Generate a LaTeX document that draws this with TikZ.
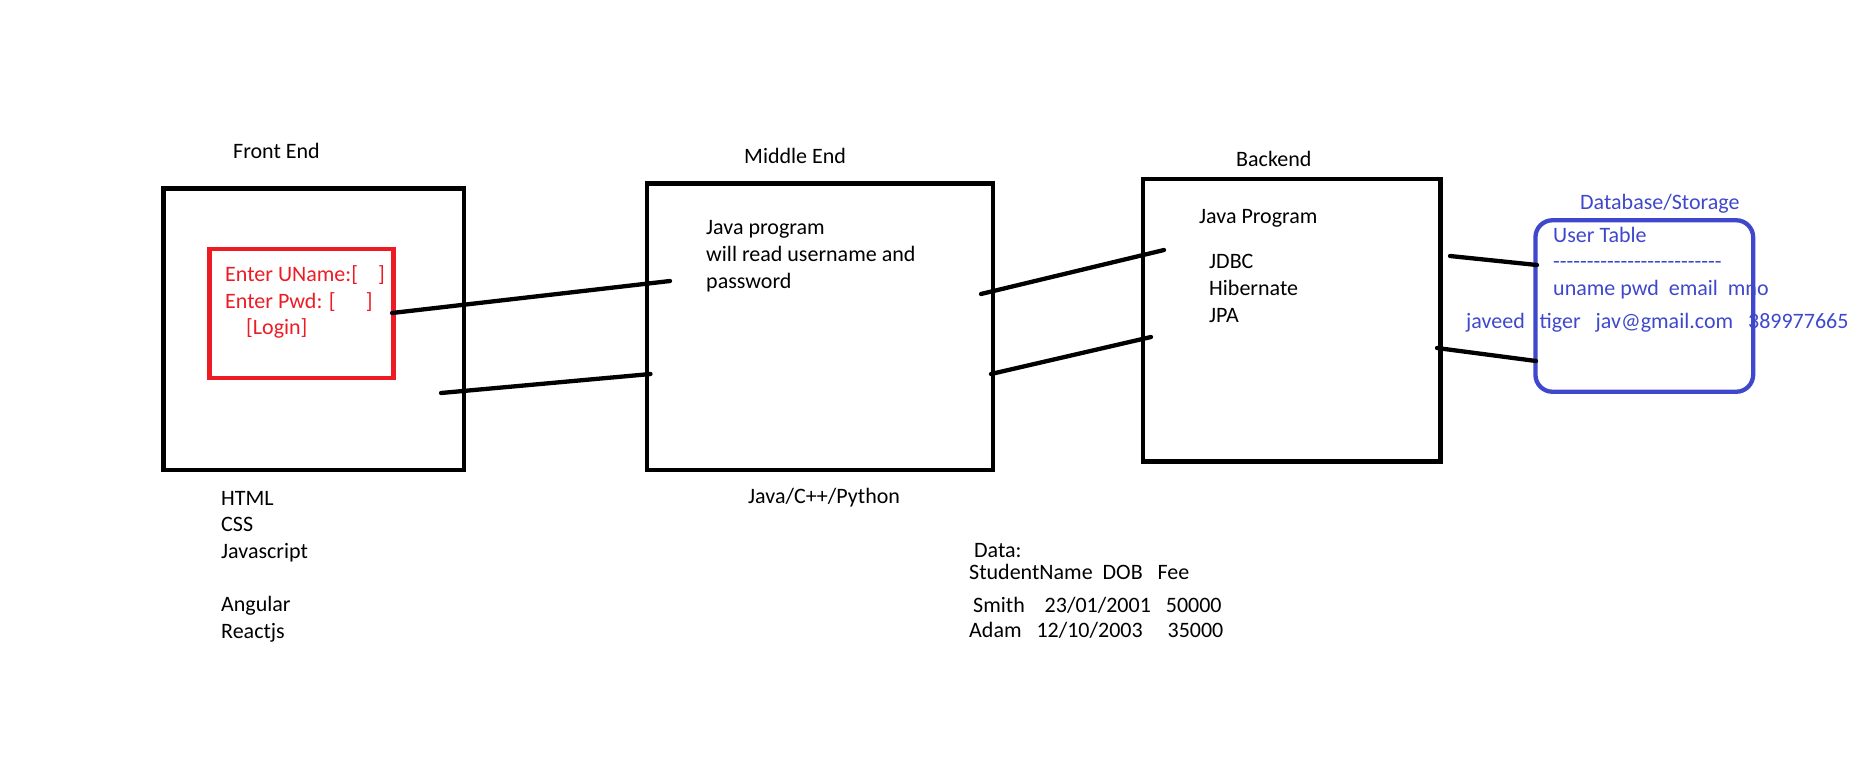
\documentclass[tikz,border=0pt]{standalone}
\usepackage{fontspec}
\setmainfont{Carlito}[Ligatures=TeXOff]
\definecolor{formred}{RGB}{237,28,36}
\definecolor{dbblue}{RGB}{63,72,204}

\begin{document}
\begin{tikzpicture}[x=1pt, y=-1pt,
  tier/.style ={rectangle, draw, line width=4.3pt, inner sep=0pt},
  form/.style ={rectangle, draw=formred, line width=4.3pt, inner sep=0pt},
  store/.style ={rectangle, draw=dbblue, line width=4.3pt, rounded corners=17pt, inner sep=0pt},
  caption/.style ={anchor=base west, inner sep=0pt, align=left, font=\fontsize{22}{26.6}\selectfont},
  link/.style ={line width=4.3pt, line cap=round}]
 \useasboundingbox (0,0) rectangle (1866,769);
 \node[tier, minimum width=300.5pt, minimum height=281.5pt] (front) at (313.75,329.25) {};
 \node[form, minimum width=184pt, minimum height=129pt] (login) at (301.4,313.8) {};
 \node[tier, minimum width=346.6pt, minimum height=286.5pt] (middle) at (820,326.75) {};
 \node[tier, minimum width=297.7pt, minimum height=282.7pt] (back) at (1291.7,320.2) {};
 \node[caption] (frontT) at (233,158) {Front End};
 \node[caption] (middleT) at (744,163) {Middle End};
 \node[caption] (backT) at (1236,166) {Backend};
 \node[caption, dbblue] (dbT) at (1580,209) {Database/Storage};
 \node[caption, formred] (fields) at (225,308) {Enter UName:[\hspace{20pt}]\\Enter Pwd: [\hspace{30pt}]};
 \node[caption, formred] (button) at (246,334) {[Login]};
 \node[caption] (middleJ) at (706,288) {Java program\\will read username and\\password};
 \node[caption] (middleL) at (748,503) {Java/C++/Python};
 \node[caption] (backJ) at (1199,223) {Java Program};
 \node[caption] (backL) at (1209,322) {JDBC\\Hibernate\\JPA};
 \node[caption] (frontL) at (221,638) {HTML\\CSS\\Javascript\\[26.6pt]Angular\\Reactjs};
 \node[caption] (data) at (974,557) {Data:};
 \node[caption] (head) at (969,579) {StudentName~ DOB~~ Fee};
 \node[caption] (row1) at (973,612) {Smith~~~ 23/01/2001~~ 50000};
 \node[caption] (row2) at (969,637) {Adam~~ 12/10/2003~~~~ 35000};
 \node[caption, dbblue] (tbl) at (1553,242) {User Table};
 \node[caption, dbblue] (rule) at (1553,268) {-------------------------};
 \node[caption, dbblue] (cols) at (1553,295) {uname pwd~ email~ mno};
 \node[caption, dbblue] (rec) at (1466,328) {javeed~~ tiger~~ jav@gmail.com~~ 389977665};
 \node[store, minimum width=217.7pt, minimum height=171.5pt] (db) at (1644.3,306) {};
 \coordinate (f1) at (392,313);
 \coordinate (m1) at (670,281);
 \coordinate (f2) at (441,393);
 \coordinate (m2) at (650.5,374);
 \coordinate (m3) at (981,294);
 \coordinate (b3) at (1164,250);
 \coordinate (m4) at (991,374);
 \coordinate (b4) at (1151,337);
 \coordinate (b5) at (1450,256);
 \coordinate (d5) at (1537,265);
 \coordinate (b6) at (1437,348);
 \coordinate (d6) at (1536,361);
 \draw[link] (f1) to (m1);
 \draw[link] (f2) to (m2);
 \draw[link] (m3) to (b3);
 \draw[link] (m4) to (b4);
 \draw[link] (b5) to (d5);
 \draw[link] (b6) to (d6);
\end{tikzpicture}
\end{document}
